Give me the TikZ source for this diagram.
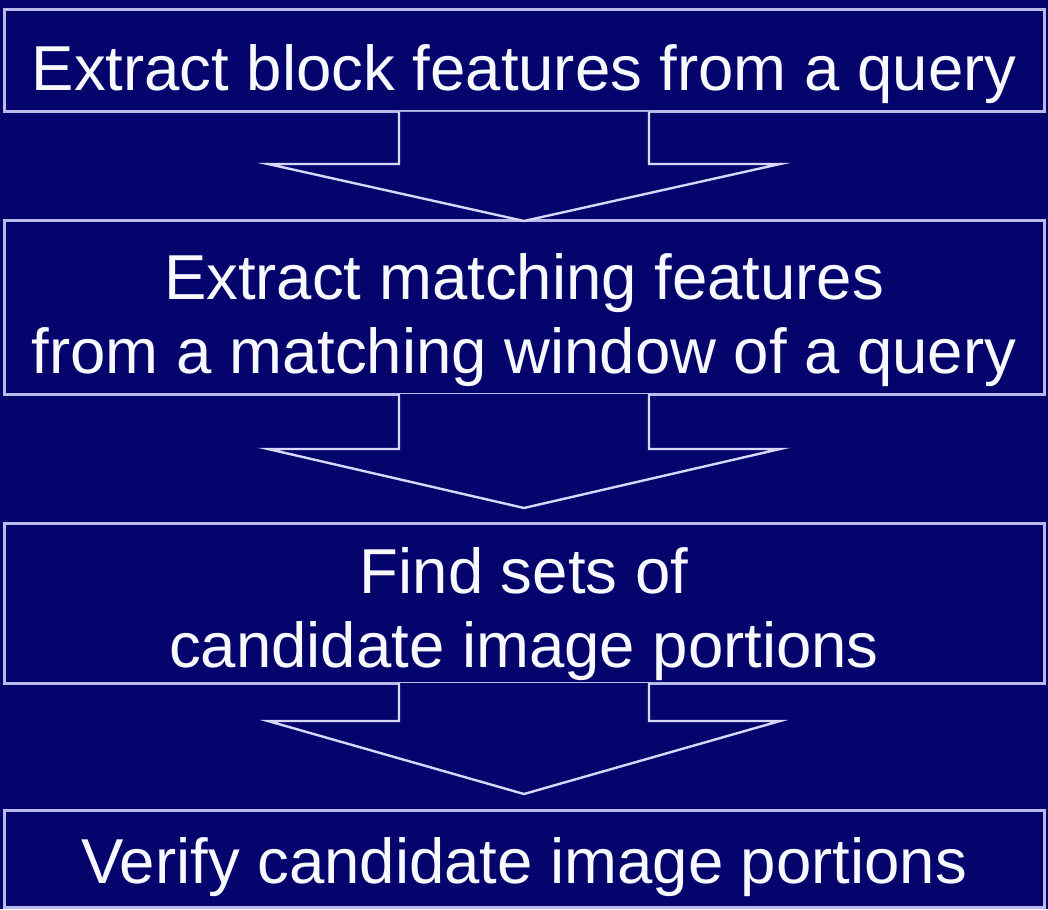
\documentclass[tikz,border=0pt]{standalone}
\usepackage{fontspec}
\setmainfont{Liberation Sans}
\usetikzlibrary{calc}
\definecolor{bgnavy}{RGB}{4,4,108}
\definecolor{boxline}{RGB}{185,185,235}
\definecolor{arrline}{RGB}{215,215,250}
\definecolor{txt}{RGB}{248,248,255}
\tikzset{
  stepbox/.style={draw=boxline, line width=3pt, inner sep=0pt, outer sep=0pt,
    minimum width=1040pt, rectangle},
  steptext/.style={text=txt, inner sep=0pt, outer sep=0pt, align=center,
    font=\fontsize{63.5}{74}\selectfont, anchor=base},
  blockarrow/.style={fill=bgnavy, draw=arrline, line width=2.4pt, line join=miter},
}
\begin{document}
\begin{tikzpicture}[x=1pt,y=-1pt]
\fill[bgnavy] (0,0) rectangle (1048,909);
\useasboundingbox (0,0) rectangle (1048,909);
% boxes
\node[stepbox, minimum height=102pt] (b1) at (524,61) {};
\node[stepbox, minimum height=173pt] (b2) at (524,307.5) {};
\node[stepbox, minimum height=160pt] (b3) at (524,603) {};
\node[stepbox, minimum height=97pt] (b4) at (524,858.5) {};
% block arrows
\filldraw[blockarrow] ($(b1.south)+(-125,0)$) -- ++(0,52) -- ++(-131,0)
  -- (b2.north) -- ($(b1.south)+(256,52)$) -- ++(-131,0) -- ++(0,-52);
\filldraw[blockarrow] ($(b2.south)+(-125,0)$) -- ++(0,55) -- ++(-131,0)
  -- ($(b3.north)+(0,-15)$) -- ($(b2.south)+(256,55)$) -- ++(-131,0) -- ++(0,-55);
\filldraw[blockarrow] ($(b3.south)+(-125,0)$) -- ++(0,38) -- ++(-131,0)
  -- ($(b4.north)+(0,-16)$) -- ($(b3.south)+(256,38)$) -- ++(-131,0) -- ++(0,-38);
% texts (base anchor = baseline of the last line)
\node[steptext] (t1) at (524,91) {Extract block features from a query};
\node[steptext] (t2) at (524,373) {Extract matching features\\from a matching window of a query};
\node[steptext] (t3) at (524,667) {Find sets of\\candidate image portions};
\node[steptext] (t4) at (524,883) {Verify candidate image portions};
\end{tikzpicture}
\end{document}
